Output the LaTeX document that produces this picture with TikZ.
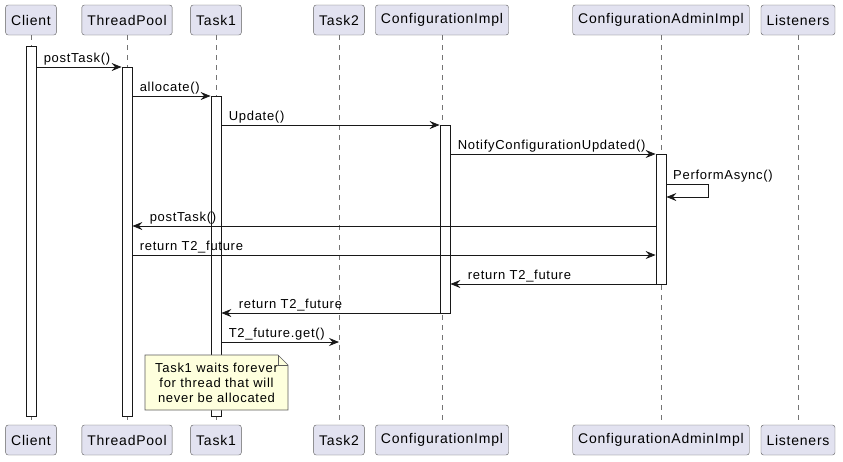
\documentclass[tikz,border=0pt]{standalone}
\usepackage{fontspec}
\setmainfont[LetterSpace=5.5]{Liberation Sans}
\usetikzlibrary{arrows.meta}
\definecolor{partfill}{HTML}{E2E2F0}
\definecolor{umlline}{HTML}{181818}
\definecolor{notefill}{HTML}{FEFFDD}
\tikzset{
  part/.style={draw=umlline!70, fill=partfill, rounded corners=2.5pt, minimum height=30pt,
    inner xsep=5.5pt, font=\fontsize{14}{16}\selectfont},
  lifeline/.style={draw=umlline!60, dash pattern=on 5pt off 5pt, line width=0.6pt},
  act/.style={draw=umlline, fill=white, minimum width=10pt, inner sep=0pt, line width=0.8pt},
  msg/.style={draw=umlline, line width=0.8pt, -{Stealth[length=10pt,width=8pt,inset=3.5pt]}},
  lbl/.style={font=\fontsize{13}{15}\selectfont, inner sep=0pt, anchor=base west},
}
\begin{document}
\begin{tikzpicture}[x=1pt, y=-1pt]
  \useasboundingbox[fill=white] (0,0) rectangle (843,461);
  % participants, top and bottom
  \node[part] (client) at (31,20) {Client};
  \node[part] (pool) at (127,20) {ThreadPool};
  \node[part] (task1) at (216,20) {Task1};
  \node[part] (task2) at (339,20) {Task2};
  \node[part] (cfg) at (442,20) {ConfigurationImpl};
  \node[part] (admin) at (661,20) {ConfigurationAdminImpl};
  \node[part] (lst) at (798,20) {Listeners};
  \node[part] (clientB) at (31,440) {Client};
  \node[part] (poolB) at (127,440) {ThreadPool};
  \node[part] (task1B) at (216,440) {Task1};
  \node[part] (task2B) at (339,440) {Task2};
  \node[part] (cfgB) at (442,440) {ConfigurationImpl};
  \node[part] (adminB) at (661,440) {ConfigurationAdminImpl};
  \node[part] (lstB) at (798,440) {Listeners};
  \draw[lifeline] (client) -- (clientB);
  \draw[lifeline] (pool) -- (poolB);
  \draw[lifeline] (task1) -- (task1B);
  \draw[lifeline] (task2) -- (task2B);
  \draw[lifeline] (cfg) -- (cfgB);
  \draw[lifeline] (admin) -- (adminB);
  \draw[lifeline] (lst) -- (lstB);

  % activations
  \node[act, minimum height=370pt] (actClient) at (31,231) {};
  \node[act, minimum height=349pt] (actPool) at (127,241.5) {};
  \node[act, minimum height=320pt] (actTask1) at (216,256) {};
  \node[act, minimum height=188pt] (actCfg) at (445,219) {};
  \node[act, minimum height=130pt] (actAdmin) at (661,219) {};

  % messages
  \draw[msg] (actClient.east |- 0,67) -- (actPool.west |- 0,67)
    node[lbl, pos=0, xshift=7pt, yshift=5pt] {postTask()};
  \draw[msg] (actPool.east |- 0,96) -- (actTask1.west |- 0,96)
    node[lbl, pos=0, xshift=7pt, yshift=5pt] {allocate()};
  \draw[msg] (actTask1.east |- 0,125) -- (actCfg.west |- 0,125)
    node[lbl, pos=0, xshift=7pt, yshift=5pt] {Update()};
  \draw[msg] (actCfg.east |- 0,154) -- (actAdmin.west |- 0,154)
    node[lbl, pos=0, xshift=7pt, yshift=5pt] {NotifyConfigurationUpdated()};
  \draw[msg] (actAdmin.east |- 0,184) -- ++(42,0) -- ++(0,13) -- (actAdmin.east |- 0,197);
  \node[lbl] (perf) at (673,179) {PerformAsync()};
  \draw[msg] (actAdmin.west |- 0,226) -- (actPool.east |- 0,226)
    node[lbl, pos=1, xshift=17pt, yshift=5pt] {postTask()};
  \draw[msg] (actPool.east |- 0,255) -- (actAdmin.west |- 0,255)
    node[lbl, pos=0, xshift=7pt, yshift=5pt] {return T2\_future};
  \draw[msg] (actAdmin.west |- 0,284) -- (actCfg.east |- 0,284)
    node[lbl, pos=1, xshift=17pt, yshift=5pt] {return T2\_future};
  \draw[msg] (actCfg.west |- 0,313) -- (actTask1.east |- 0,313)
    node[lbl, pos=1, xshift=17pt, yshift=5pt] {return T2\_future};
  \draw[msg] (actTask1.east |- 0,342) -- (task2 |- 0,342)
    node[lbl, pos=0, xshift=7pt, yshift=5pt] {T2\_future.get()};

  % note
  \draw[draw=umlline!70, fill=notefill, line width=0.6pt]
    (145,355) -- (278,355) -- (288,365) -- (288,410) -- (145,410) -- cycle;
  \draw[draw=umlline!70, line width=0.6pt] (278,355) -- (278,365) -- (288,365);
  \node[align=center, font=\fontsize{13}{15}\selectfont, inner sep=0pt] (note) at (216.5,383)
    {Task1 waits forever\\for thread that will\\never be allocated};
\end{tikzpicture}
\end{document}
